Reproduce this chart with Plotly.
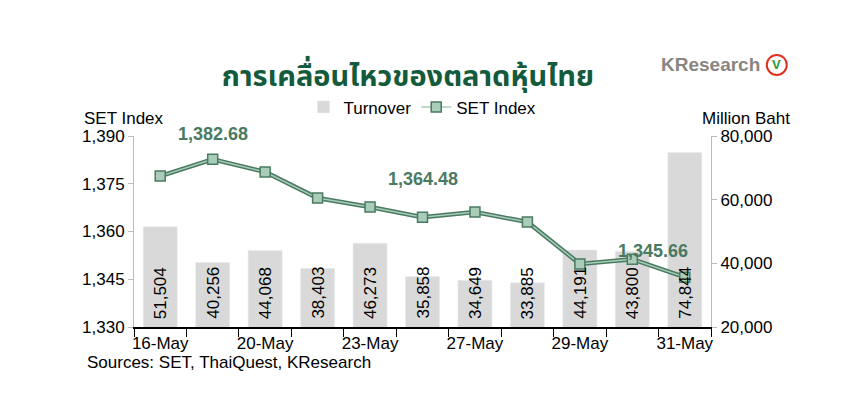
import plotly.graph_objects as go

dates = ["16-May","17-May","20-May","21-May","23-May","24-May","27-May","28-May","29-May","30-May","31-May"]
turnover = [51504,40256,44068,38403,46273,35858,34649,33885,44191,43800,74844]
set_index = [1377.4,1382.68,1378.7,1370.5,1367.7,1364.48,1366.1,1363.0,1349.8,1351.3,1345.66]
label_idx = [0,2,4,6,8,10]
yl_ticks = [1330,1345,1360,1375,1390]
yr_ticks = [20000,40000,60000,80000]

x = list(range(len(dates)))
green = "#4a7a62"
fig = go.Figure()
fig.add_bar(x=x, y=turnover, yaxis="y", name="Turnover", marker_color="#d9d9d9", width=0.65)
fig.add_scatter(x=x, y=set_index, yaxis="y2", mode="lines", line=dict(color=green, width=4.5), showlegend=False, hoverinfo="skip")
fig.add_scatter(x=x, y=set_index, yaxis="y2", mode="lines+markers", name="SET Index",
                line=dict(color="#a9cdb8", width=1.5),
                marker=dict(symbol="square", size=10, color="#a9cdb8", line=dict(color=green, width=1.5)))
for i, v in zip(x, turnover):
    fig.add_annotation(x=i, y=20000, yref="y", text=f"{v:,}", textangle=-90, showarrow=False,
                       yanchor="bottom", yshift=6, font=dict(size=17, color="black"))
for i, dy in [(1, -25), (5, -38), (10, -26)]:
    fig.add_annotation(x=i - (0.6 if i == 10 else 0), y=set_index[i], yref="y2", text=f"<b>{set_index[i]:,.2f}</b>",
                       showarrow=False, yshift=-dy, font=dict(size=18, color=green))

fig.update_layout(
    width=842, height=410, paper_bgcolor="white", plot_bgcolor="white",
    margin=dict(l=126, r=139, t=128, b=91),
    font=dict(family="Arial, Liberation Sans, sans-serif", size=17, color="black"),
    title=dict(text="<b>การเคลื่อนไหวของตลาดหุ้นไทย</b>", x=0.475, xanchor="center", y=0.835,
               yanchor="middle", font=dict(size=29, color="#145a3c", family="Noto Sans Thai, Noto Sans, sans-serif")),
    showlegend=True,
    legend=dict(orientation="h", x=0.5, xanchor="center", y=1.15, yanchor="middle",
                font=dict(size=17), bgcolor="rgba(0,0,0,0)", traceorder="normal"),
    xaxis=dict(range=[-0.5, 10.5], tickvals=label_idx, ticktext=[dates[i] for i in label_idx],
               ticks="", showline=True, linecolor="black", linewidth=1.5, showgrid=False, zeroline=False,
               minor=dict(tickvals=[i - 0.5 for i in range(12)], ticks="outside", ticklen=8, tickcolor="black")),
    yaxis=dict(range=[20000, 80000], tickvals=yr_ticks, tickformat=",", side="right",
               showgrid=False, zeroline=False, showline=True, linecolor="#bbb", ticks="outside",
               tickcolor="#bbb", ticklen=5),
    yaxis2=dict(range=[1330, 1390], tickvals=yl_ticks, tickformat=",", overlaying="y", side="left",
                showgrid=False, zeroline=False, showline=True, linecolor="#bbb", ticks="outside",
                tickcolor="#bbb", ticklen=5),
)
fig.add_annotation(xref="paper", yref="paper", x=-0.09, y=1.15, xanchor="left", text="SET Index", showarrow=False, font=dict(size=17))
fig.add_annotation(xref="paper", yref="paper", x=1.14, y=1.15, xanchor="right", text="Million Baht", showarrow=False, font=dict(size=17))
fig.add_annotation(xref="paper", yref="paper", x=-0.085, y=-0.245, xanchor="left", text="Sources: SET, ThaiQuest, KResearch", showarrow=False, font=dict(size=17))
fig.add_annotation(xref="paper", yref="paper", x=1.088, y=1.372, xanchor="right", yanchor="middle",
                   text="<b>KResearch</b>", showarrow=False, font=dict(size=19, color="#8a8580"))
fig.add_shape(type="circle", xref="paper", yref="paper", xsizemode="pixel", ysizemode="pixel",
              xanchor=1.114, yanchor=1.372, x0=-10, x1=10, y0=-10, y1=10,
              line=dict(color="#e03020", width=2), fillcolor="white")
fig.add_annotation(xref="paper", yref="paper", x=1.114, y=1.372, xanchor="center", yanchor="middle", text="<b>V</b>", showarrow=False,
                   font=dict(size=13, color="#2a9a3a"))
fig.write_html("out.html")
